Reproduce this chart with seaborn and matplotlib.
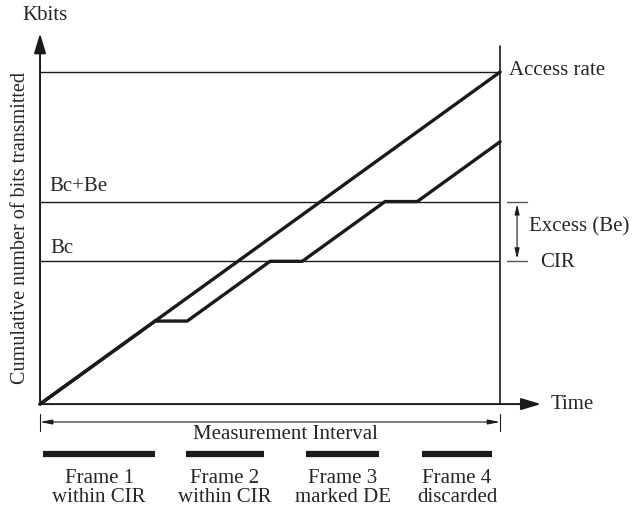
import numpy as np
import pandas as pd
import matplotlib
matplotlib.use("Agg")
import matplotlib.pyplot as plt
import seaborn as sns

# --- data (time units 0..10, Kbits scaled so access rate hits 10 at t=10) ---
access_time = [0, 10]
access_bits = [0, 10]

sent_time = [0, 2.5, 3.2, 5.0, 5.7, 7.5, 8.2, 10]
sent_bits = [0, 2.5, 2.5, 4.3, 4.3, 6.1, 6.1, 7.9]

level_names = ["Access rate", "Bc+Be", "Bc"]
level_values = [10, 6.1, 4.3]

frame_start = [0.07, 3.17, 5.78, 8.3]
frame_end = [2.5, 4.87, 7.37, 9.83]
frame_labels = ["Frame 1\nwithin CIR", "Frame 2\nwithin CIR",
                "Frame 3\nmarked DE", "Frame 4\ndiscarded"]

sns.set_theme(style="white")
plt.rcParams['font.family'] = ['Liberation Serif', 'DejaVu Serif']

fig = plt.figure(figsize=(6.39, 5.08), dpi=100)
ax = fig.add_axes([0, 0, 1, 1])
ax.set_xlim(-0.87, 13.02)
ax.set_ylim(-3.13, 12.17)
ax.axis("off")

FS = 15
ink = "#1a1a1a"

# horizontal reference levels
for v in level_values:
    ax.plot([0, 10], [v, v], color=ink, lw=1.0)

# right boundary of the measurement interval
ax.plot([10, 10], [0, 10.78], color=ink, lw=1.2)

# the two cumulative curves
df_access = pd.DataFrame({"t": access_time, "bits": access_bits})
df_sent = pd.DataFrame({"t": sent_time, "bits": sent_bits})
sns.lineplot(data=df_access, x="t", y="bits", sort=False, color=ink, lw=2.4, ax=ax)
sns.lineplot(data=df_sent, x="t", y="bits", sort=False, color=ink, lw=2.4, ax=ax)

# axes with arrows
ax.annotate("", xy=(10.95, 0), xytext=(0, 0),
            arrowprops=dict(arrowstyle="-|>,head_length=1.0,head_width=0.3", color=ink, lw=1.4))
ax.annotate("", xy=(0, 11.25), xytext=(0, 0),
            arrowprops=dict(arrowstyle="-|>,head_length=1.0,head_width=0.3", color=ink, lw=1.4))

ax.text(0.11, 11.69, "Kbits", fontsize=FS, ha="center", va="center")
ax.text(11.1, 0, "Time", fontsize=FS, ha="left", va="center")
ax.text(-0.43, 5.3, "Cumulative number of bits transmitted", fontsize=14.5,
        rotation=90, ha="center", va="center")

ax.text(10.2, 10.05, level_names[0], fontsize=FS, ha="left", va="center")
ax.text(0.2, 6.54, level_names[1], fontsize=FS, ha="left", va="center")
ax.text(0.22, 4.7, level_names[2], fontsize=FS, ha="left", va="center")

# excess bracket
ax.plot([10.15, 10.59], [6.1, 6.1], color="#555555", lw=1.0)
ax.plot([10.15, 10.59], [4.3, 4.3], color="#555555", lw=1.0)
ax.annotate("", xy=(10.37, 6.1), xytext=(10.37, 4.3),
            arrowprops=dict(arrowstyle="<|-|>,head_length=0.5,head_width=0.12", color=ink, lw=0.8))
ax.text(10.63, 5.33, "Excess (Be)", fontsize=FS, ha="left", va="center")
ax.text(10.87, 4.25, "CIR", fontsize=FS, ha="left", va="center")

# measurement interval
ax.annotate("", xy=(10, -0.54), xytext=(0, -0.54),
            arrowprops=dict(arrowstyle="<|-|>,head_length=0.6,head_width=0.12", color=ink, lw=0.8,
                            shrinkA=0, shrinkB=0))
ax.plot([0, 0], [-0.3, -0.8], color=ink, lw=0.8)
ax.plot([10, 10], [-0.3, -0.8], color=ink, lw=0.8)
ax.text(5.33, -0.93, "Measurement Interval", fontsize=FS, ha="center", va="center")

# frames
for s, e, lab in zip(frame_start, frame_end, frame_labels):
    ax.plot([s, e], [-1.51, -1.51], color=ink, lw=4.5, solid_capstyle="butt")
    ax.text((s + e) / 2, -2.53, lab, fontsize=FS, ha="center", va="center",
            linespacing=0.95)

fig.savefig("out.png", dpi=100)
